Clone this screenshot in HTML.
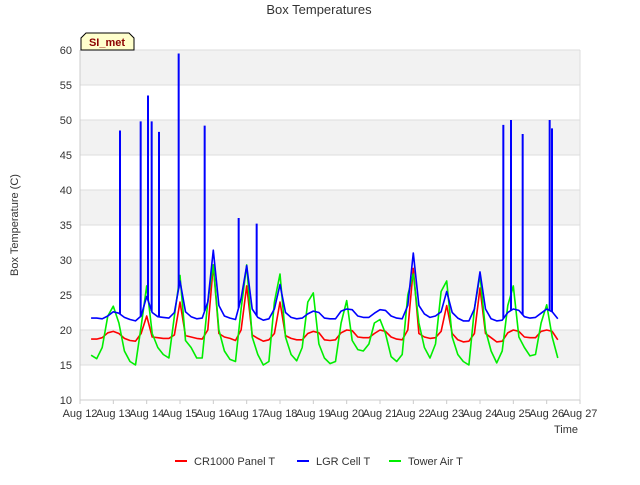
<!DOCTYPE html>
<html><head><meta charset="utf-8"><style>
body{margin:0;background:#fff;font-family:"Liberation Sans",sans-serif}
svg text{font-family:"Liberation Sans",sans-serif}
</style></head><body>
<svg id="chart" width="640" height="480">
<g id="bands"></g><g id="grid"></g><g id="series"></g><g id="axes"></g>
<text x="319" y="14" text-anchor="middle" font-size="13" fill="#333">Box Temperatures</text>
<text transform="translate(18,225) rotate(-90)" text-anchor="middle" font-size="11" fill="#333">Box Temperature (C)</text>
<text x="566" y="433" text-anchor="middle" font-size="11" fill="#333">Time</text>
<g>
<path d="M81,50 L81,38 L86,33 L129,33 L134,38 L134,50 Z" fill="#ffffcc" stroke="#000" stroke-width="1"/>
<text x="107" y="46" text-anchor="middle" font-size="11" font-weight="bold" fill="#8b0000">SI_met</text></g>
<g>
<g><line x1="175" y1="461" x2="187" y2="461" stroke="#ff0000" stroke-width="2"/><text x="194" y="465" font-size="11" fill="#333">CR1000 Panel T</text></g>
<g><line x1="297" y1="461" x2="309" y2="461" stroke="#0000ff" stroke-width="2"/><text x="316" y="465" font-size="11" fill="#333">LGR Cell T</text></g>
<g><line x1="389" y1="461" x2="401" y2="461" stroke="#00ee00" stroke-width="2"/><text x="408" y="465" font-size="11" fill="#333">Tower Air T</text></g>
</g>
</svg>
<script>
const xTickLabels=["Aug 12","Aug 13","Aug 14","Aug 15","Aug 16","Aug 17","Aug 18","Aug 19","Aug 20","Aug 21","Aug 22","Aug 23","Aug 24","Aug 25","Aug 26","Aug 27"];
const yTicks=[10,15,20,25,30,35,40,45,50,55,60];
const startTime=12.333, stepDays=1/6;
const redValues=[18.7,18.7,18.9,19.6,19.8,19.5, 18.8,18.5,18.4,19.5,22.0,19.0, 18.9,18.8,18.8,19.3,24.0,19.2, 19.0,18.8,18.7,20.0,29.3,19.5, 19.0,18.8,18.5,20.0,26.3,19.3, 18.8,18.4,18.6,19.5,24.0,19.2, 18.8,18.6,18.6,19.5,19.8,19.6, 18.6,18.5,18.6,19.6,20.0,19.9, 19.0,18.9,18.9,19.5,20.0,19.8, 19.0,18.7,18.6,20.0,28.8,19.5, 19.0,18.8,18.9,19.8,23.5,19.5, 18.6,18.3,18.4,19.5,26.0,19.5, 18.9,18.3,18.4,19.6,20.0,19.8, 19.0,18.9,18.9,19.8,20.0,19.8, 18.6];
const blueValues=[21.7,21.7,21.6,22.0,22.6,22.4, 21.8,21.5,21.3,22.0,24.8,22.5, 21.9,21.8,21.7,22.5,27.0,22.6, 21.9,21.6,21.7,24.0,31.4,23.5, 22.0,21.7,21.5,24.5,29.2,23.0, 21.8,21.4,21.6,23.0,26.5,22.5, 21.8,21.6,21.7,22.3,22.7,22.5, 21.7,21.6,21.6,22.7,23.0,22.9, 22.0,21.8,21.8,22.4,22.9,22.8, 22.0,21.7,21.6,23.5,31.0,23.5, 22.3,21.8,22.0,22.6,25.5,22.5, 21.7,21.3,21.3,23.0,28.3,23.0, 21.6,21.3,21.4,22.5,23.0,22.8, 21.9,21.7,21.8,22.4,23.0,22.6, 21.6];
const greenValues=[16.4,15.9,17.5,22.0,23.4,21.0, 17.0,15.5,15.0,20.5,26.3,19.5, 17.5,16.5,16.0,22.0,27.8,18.5, 17.5,16.0,16.0,24.0,29.3,20.0, 17.0,15.8,15.5,23.0,29.3,19.0, 16.5,15.0,15.5,24.0,28.0,19.0, 16.5,15.6,17.5,24.0,25.3,18.0, 16.0,15.2,15.5,21.0,24.2,18.5, 17.2,17.0,18.0,21.0,21.5,19.5, 16.2,15.5,16.5,25.0,28.0,21.0, 17.5,16.0,18.0,25.5,27.0,19.0, 16.5,15.5,15.0,23.0,27.8,20.0, 17.0,15.3,17.0,23.5,26.3,19.0, 17.5,16.3,16.5,21.0,23.6,19.0, 16.0];
const spikeTimes=[13.2,13.82,14.04,14.15,14.37,14.96,15.74,16.76,17.3,24.7,24.93,25.28,26.09,26.16];
const spikeValues=[48.5,49.8,53.5,49.8,48.3,59.5,49.2,36.0,35.2,49.3,50.0,48.0,50.0,48.8];
const NS="http://www.w3.org/2000/svg";
const X0=80,X1=580,Y0=400,Y1=50;
function xs(t){return X0+(t-12)/15*(X1-X0);}
function ys(v){return Y0-(v-10)/50*(Y0-Y1);}
function mk(tag,attrs,parent){const e=document.createElementNS(NS,tag);for(const k in attrs)e.setAttribute(k,attrs[k]);parent.appendChild(e);return e;}
const bands=document.getElementById('bands'),grid=document.getElementById('grid'),axes=document.getElementById('axes'),ser=document.getElementById('series');
mk('rect',{x:X0,y:Y1,width:X1-X0,height:Y0-Y1,fill:'#fff'},bands);
for(let i=0;i<yTicks.length-1;i++){if(i%2===1){const r=mk('rect',{x:X0,y:ys(yTicks[i+1]),width:X1-X0,height:ys(yTicks[i])-ys(yTicks[i+1]),fill:'#f2f2f2'},bands);

}}
yTicks.forEach(v=>{const l=mk('line',{x1:X0,x2:X1,y1:ys(v),y2:ys(v),stroke:'#ddd','stroke-width':1},grid);


const t=mk('text',{x:X0-8,y:ys(v)+4,'text-anchor':'end','font-size':11,fill:'#333'},axes);t.textContent=v;

});
mk('line',{x1:X1,x2:X1,y1:Y1,y2:Y0,stroke:'#ddd'},grid);
mk('line',{x1:X0,x2:X0,y1:Y1,y2:Y0,stroke:'#ccc'},axes);
mk('line',{x1:X0,x2:X1,y1:Y0,y2:Y0,stroke:'#ccc'},axes);
xTickLabels.forEach((lab,i)=>{const x=xs(12+i);mk('line',{x1:x,x2:x,y1:Y0,y2:Y0+4,stroke:'#ccc'},axes);
const t=mk('text',{x:x,y:Y0+17,'text-anchor':'middle','font-size':11,fill:'#333'},axes);t.textContent=lab;

});
function tAt(i){return startTime+i*stepDays;}
function path(vals,color,name){let d='';vals.forEach((v,i)=>{d+=(i?'L':'M')+xs(tAt(i)).toFixed(1)+','+ys(v).toFixed(1);});
const p=mk('path',{d:d,fill:'none',stroke:color,'stroke-width':1.6,'stroke-linejoin':'round'},ser);

}
function interp(vals,t){const f=(t-startTime)/stepDays;const i=Math.max(0,Math.min(vals.length-2,Math.floor(f)));const r=f-i;return vals[i]*(1-r)+vals[i+1]*r;}
path(redValues,'#ff0000','cr1000-panel-t-line');
path(greenValues,'#00ee00','tower-air-t-line');
path(blueValues,'#0000ff','lgr-cell-t-line');
spikeTimes.forEach((t,i)=>{const x=xs(t);const l=mk('line',{x1:x,x2:x,y1:ys(interp(blueValues,t)),y2:ys(spikeValues[i]),stroke:'#0000ff','stroke-width':2},ser);

});
</script>
</body></html>
